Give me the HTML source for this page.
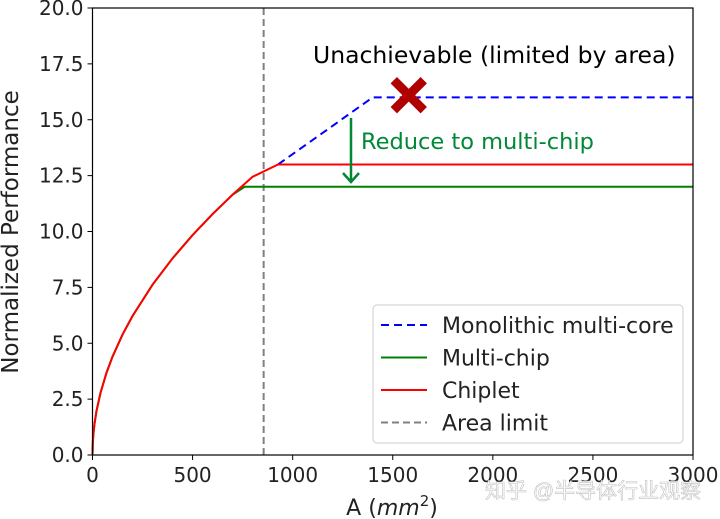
<!DOCTYPE html>
<html><head><meta charset="utf-8"><style>
body{margin:0;background:#fff;}
svg{display:block;font-family:"DejaVu Sans","Liberation Sans",sans-serif;}
</style></head><body>
<svg id="chart" width="720" height="519" viewBox="0 0 720 519"></svg>
<script>
const xTicks=[0,500,1000,1500,2000,2500,3000];
const yTicks=[0,2.5,5,7.5,10,12.5,15,17.5,20];
const yTickLabels=["0.0","2.5","5.0","7.5","10.0","12.5","15.0","17.5","20.0"];
const curveA=[0,2,5,10,20,40,70,100,150,200,300,400,500,600,700,760,800];
const curveP=[0,0.62,0.98,1.39,1.97,2.78,3.68,4.40,5.39,6.22,7.62,8.80,9.84,10.78,11.65,12.13,12.45];
const monoA=[927,1400,3000];
const monoP=[13,16,16];
const chipletEndA=[927,3000];
const chipletP=[13,13];
const multiA=[760,3000];
const multiP=[12,12];
const areaLimit=855;
const unachievable=[1580,16.1];

const L=92.5,R=693,T=8,B=455;
const sx=a=>L+(a/3000)*(R-L);
const sy=p=>B-(p/20)*(B-T);
const svg=document.getElementById('chart');
const NS='http://www.w3.org/2000/svg';
function mk(tag,attrs,text){const e=document.createElementNS(NS,tag);for(const k in attrs)e.setAttribute(k,attrs[k]);if(text!==undefined)e.textContent=text;svg.appendChild(e);return e;}

let e=mk('line',{x1:sx(areaLimit),x2:sx(areaLimit),y1:T,y2:B,stroke:'#808080','stroke-width':2,'stroke-dasharray':'7,4'});



function pts(A,P){return A.map((a,i)=>sx(a)+','+sy(P[i])).join(' ');}
const mcA=curveA.filter(a=>a<multiA[0]);
e=mk('polyline',{points:pts(mcA,curveP.slice(0,mcA.length))+' '+pts(multiA,multiP),fill:'none',stroke:'#008000','stroke-width':2});


e=mk('polyline',{points:pts(monoA,monoP),fill:'none',stroke:'#0000ff','stroke-width':2,'stroke-dasharray':'8,5'});


e=mk('polyline',{points:pts(curveA,curveP)+' '+pts(chipletEndA,chipletP),fill:'none',stroke:'#ff0000','stroke-width':2});



const mx=sx(unachievable[0]),my=sy(unachievable[1]);
e=mk('path',{d:`M${mx-15},${my-15}L${mx+15},${my+15}M${mx+15},${my-15}L${mx-15},${my+15}`,stroke:'#b00000','stroke-width':9});


e=mk('text',{x:313,y:63,'font-size':23.5,fill:'#000'},'Unachievable (limited by area)');


e=mk('path',{d:'M351,118L351,182M343,173L351,182L359,173',stroke:'#008837','stroke-width':2.5,fill:'none'});


e=mk('text',{x:361,y:149,'font-size':22.5,fill:'#008837'},'Reduce to multi-chip');



e=mk('rect',{x:L,y:T,width:R-L,height:B-T,fill:'none',stroke:'#000','stroke-width':1.2});


xTicks.forEach(t=>{
  mk('line',{x1:sx(t),x2:sx(t),y1:B,y2:B+5,stroke:'#000'});
  const tx=mk('text',{x:sx(t),y:B+27,'font-size':20,'text-anchor':'middle',fill:'#222'},String(t));
  
  
});
yTicks.forEach((t,i)=>{
  mk('line',{x1:L-5,x2:L,y1:sy(t),y2:sy(t),stroke:'#000'});
  const tx=mk('text',{x:L-9,y:sy(t)+7,'font-size':20,'text-anchor':'end',fill:'#222'},yTickLabels[i]);
  
  
});
e=mk('text',{x:392,y:515,'font-size':22,'text-anchor':'middle',fill:'#222'});
e.innerHTML='A (<tspan font-style="italic">mm</tspan><tspan dy="-9" font-size="15">2</tspan><tspan dy="9">)</tspan>';


e=mk('text',{x:18,y:232,'font-size':23,'text-anchor':'middle',fill:'#222',transform:'rotate(-90 18 232)'},'Normalized Performance');



e=mk('rect',{x:373,y:305,width:310,height:138,rx:4,fill:'#fff',stroke:'#ccc'});


const leg=[['Monolithic multi-core','#0000ff','8,5'],['Multi-chip','#008000',''],['Chiplet','#ff0000',''],['Area limit','#808080','7,4']];
leg.forEach((l,i)=>{
  const y=325+i*32.5;
  mk('line',{x1:381,x2:427,y1:y,y2:y,stroke:l[1],'stroke-width':2,'stroke-dasharray':l[2]||'none'});
  const tx=mk('text',{x:442,y:y+8,'font-size':22,fill:'#222'},l[0]);
  
  
});
e=mk('text',{x:485,y:498,'font-size':21,fill:'#fff',stroke:'#bbb','stroke-width':0.6,opacity:0.9,'font-family':'"Liberation Sans","Noto Sans CJK SC",sans-serif'},'知乎 @半导体行业观察');


</script>
</body></html>
